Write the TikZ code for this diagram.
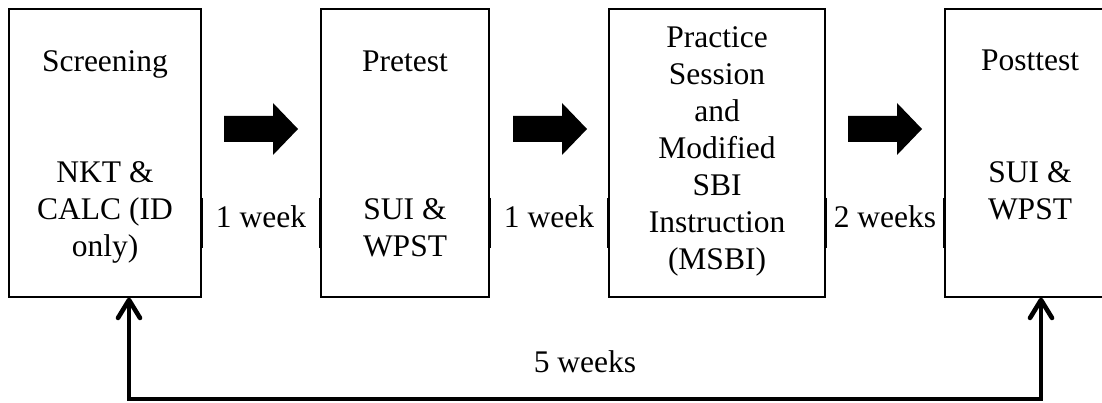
\documentclass[tikz,border=0pt]{standalone}
\usepackage{fontspec}
\setmainfont{Liberation Serif}
\usetikzlibrary{arrows.meta}

\tikzset{
  stage/.style={draw=black, line width=1.3pt, inner sep=0pt,
                minimum height=288pt, minimum width=#1},
  lbl/.style={inner sep=0pt, anchor=base, text=black,
              font=\fontsize{31.5}{37}\selectfont},
  seam/.style={line width=2.6pt, black},
  bigarrow/.style={fill=black},
  returnline/.style={line width=4.6pt, black,
     {Straight Barb[length=18pt,width=22pt,round]}-{Straight Barb[length=18pt,width=22pt,round]}},
}

\newcommand{\stack}[1]{\begin{tabular}[t]{@{}c@{}}#1\end{tabular}}

\begin{document}
\begin{tikzpicture}[x=1pt, y=-1pt]
  \useasboundingbox (0,0) rectangle (1102,403);
  \clip (0,0) rectangle (1102,403);

  % stage boxes
  \node[stage=192pt] (scr)  at (105,153) {};
  \node[stage=168pt] (pre)  at (405,153) {};
  \node[stage=216pt] (prac) at (717,153) {};
  \node[stage=170pt] (post) at (1030,153) {};

  % box texts
  \node[lbl] (scr-a) at (105,72) {Screening};
  \node[lbl] (scr-b) at (105,183) {\stack{NKT \&\\CALC (ID\\only)}};
  \node[lbl] (pre-a) at (405,72) {Pretest};
  \node[lbl] (pre-b) at (405,220) {\stack{SUI \&\\WPST}};
  \node[lbl] (prac-a) at (717,48) {\stack{Practice\\Session\\and\\Modified\\SBI\\Instruction\\(MSBI)}};
  \node[lbl] (post-a) at (1030,71) {Posttest};
  \node[lbl] (post-b) at (1030,183) {\stack{SUI \&\\WPST}};

  % interval labels between stages
  \node[lbl] (w1) at (261,228) {1 week};
  \node[lbl] (w2) at (549,228) {1 week};
  \node[lbl] (w3) at (885,228) {2 weeks};
  \node[lbl] (w5) at (585,372) {5 weeks};

  % heavier edge pieces beside the interval labels
  \draw[seam] (scr.east |- 0,198) -- (scr.east |- 0,248);
  \draw[seam] (pre.west |- 0,198) -- (pre.west |- 0,248);
  \draw[seam] (pre.east |- 0,198) -- (pre.east |- 0,248);
  \draw[seam] (prac.west |- 0,198) -- (prac.west |- 0,248);
  \draw[seam] (prac.east |- 0,198) -- (prac.east |- 0,248);
  \draw[seam] (post.west |- 0,198) -- (post.west |- 0,248);

  % block arrows
  \foreach \x in {224,513,848}{
    \fill[bigarrow] (\x,116) -- ++(49,0) -- ++(0,-13) -- ++(25,26)
      -- ++(-25,26) -- ++(0,-13) -- ++(-49,0) -- cycle;
  }

  % return line from screening to posttest
  \coordinate (bl) at (129,399);
  \coordinate (br) at (1041,399);
  \draw[returnline] (scr.south -| bl) -- (bl) -- (br) -- (post.south -| br);
\end{tikzpicture}
\end{document}
